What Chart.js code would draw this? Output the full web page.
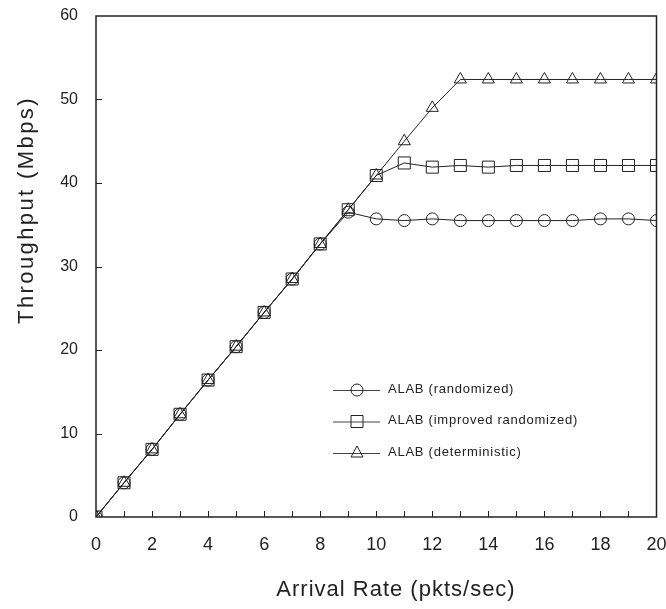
<!DOCTYPE html>
<html>
<head>
<meta charset="utf-8">
<script src="https://cdn.jsdelivr.net/npm/chart.js@4/dist/chart.umd.min.js"></script>
<style>
  html, body { margin: 0; padding: 0; background: #fff; }
  #wrap { width: 666px; height: 609px; }
</style>
</head>
<body>
<div id="wrap"><canvas id="chart" width="666" height="609"></canvas></div>
<script>
const arrivalRate = [0,1,2,3,4,5,6,7,8,9,10,11,12,13,14,15,16,17,18,19,20];
const randomized = [0,4.1,8.1,12.3,16.4,20.4,24.5,28.5,32.7,36.5,35.7,35.5,35.7,35.5,35.5,35.5,35.5,35.5,35.7,35.7,35.5];
const improved = [0,4.1,8.1,12.3,16.4,20.4,24.5,28.5,32.7,36.8,40.9,42.4,41.9,42.1,41.9,42.1,42.1,42.1,42.1,42.1,42.1];
const deterministic = [0,4.1,8.1,12.3,16.4,20.4,24.5,28.5,32.7,36.8,40.9,45.0,49.0,52.4,52.4,52.4,52.4,52.4,52.4,52.4,52.4];
const seriesNames = ["ALAB (randomized)", "ALAB (improved randomized)", "ALAB (deterministic)"];
const xTitle = "Arrival Rate (pkts/sec)";
const yTitle = "Throughput (Mbps)";

const FONT = "'Liberation Sans', Arial, sans-serif";
const ink = "#222";

function pts(vals) {
  return arrivalRate.map((x, i) => ({ x: x, y: vals[i] }));
}

function marker(ctx, style, x, y) {
  ctx.beginPath();
  if (style === "circle") {
    ctx.arc(x, y, 6, 0, Math.PI * 2);
  } else if (style === "rect") {
    ctx.rect(x - 6, y - 6, 12, 12);
  } else {
    ctx.moveTo(x, y - 7);
    ctx.lineTo(x + 6, y + 4);
    ctx.lineTo(x - 6, y + 4);
    ctx.closePath();
  }
  ctx.stroke();
}

// frame, inward tick marks, axis titles and the hand-drawn legend
const extras = {
  id: "extras",
  afterDraw(chart) {
    const { ctx, chartArea: a, scales } = chart;
    ctx.save();
    ctx.strokeStyle = ink;
    ctx.lineWidth = 1.5;
    ctx.strokeRect(a.left, a.top, a.right - a.left, a.bottom - a.top);

    ctx.lineWidth = 1;
    for (let v = 1; v < 20; v++) {
      const px = Math.round(scales.x.getPixelForValue(v)) + 0.5;
      ctx.beginPath();
      ctx.moveTo(px, a.bottom);
      ctx.lineTo(px, a.bottom - 6);
      ctx.stroke();
    }
    for (let v = 10; v < 60; v += 10) {
      const py = Math.round(scales.y.getPixelForValue(v)) + 0.5;
      ctx.beginPath();
      ctx.moveTo(a.left, py);
      ctx.lineTo(a.left + 6, py);
      ctx.stroke();
    }

    // axis titles (letter spaced like the original)
    ctx.fillStyle = ink;
    ctx.textAlign = "center";
    ctx.textBaseline = "middle";
    ctx.font = "22px " + FONT;
    ctx.letterSpacing = "1px";
    ctx.fillText(xTitle, 396, 590);
    ctx.save();
    ctx.translate(27, 210);
    ctx.rotate(-Math.PI / 2);
    ctx.letterSpacing = "2.4px";
    ctx.fillText(yTitle, 0, 0);
    ctx.restore();

    const styles = ["circle", "rect", "triangle"];
    ctx.font = "13px " + FONT;
    ctx.letterSpacing = "0.75px";
    ctx.textAlign = "left";
    for (let i = 0; i < 3; i++) {
      const y = 390 + i * 31.5;
      ctx.strokeStyle = "#444";
      ctx.beginPath();
      ctx.moveTo(333, y + 0.5);
      ctx.lineTo(380, y + 0.5);
      ctx.stroke();
      ctx.strokeStyle = ink;
      marker(ctx, styles[i], 357, y);
      ctx.fillText(seriesNames[i], 388, y - 1);
    }
    ctx.restore();
  }
};

const common = {
  showLine: true,
  borderColor: ink,
  borderWidth: 1,
  pointBorderColor: ink,
  pointBackgroundColor: "rgba(0,0,0,0)",
  pointBorderWidth: 1,
  tension: 0
};

new Chart(document.getElementById("chart"), {
  type: "scatter",
  data: {
    datasets: [
      Object.assign({ label: seriesNames[0], data: pts(randomized), pointStyle: "circle", pointRadius: 6 }, common),
      Object.assign({ label: seriesNames[1], data: pts(improved), pointStyle: "rect", pointRadius: 8.5 }, common),
      Object.assign({ label: seriesNames[2], data: pts(deterministic), pointStyle: "triangle", pointRadius: 7 }, common)
    ]
  },
  options: {
    responsive: false,
    animation: false,
    layout: { padding: { top: 16, right: 8, left: 0, bottom: 0 } },
    plugins: { legend: { display: false }, tooltip: { enabled: false } },
    scales: {
      x: {
        type: "linear",
        min: 0, max: 20,
        grid: { display: false },
        border: { display: false },
        ticks: {
          stepSize: 2,
          padding: 9,
          color: ink,
          font: { family: FONT, size: 18 },
          maxRotation: 0
        },
        afterFit(s) { s.height = 92; s.paddingLeft = 0; s.paddingRight = 0; }
      },
      y: {
        min: 0, max: 60,
        grid: { display: false },
        border: { display: false },
        ticks: {
          stepSize: 10,
          padding: 10,
          color: ink,
          font: { family: FONT, size: 16 }
        },
        afterFit(s) { s.width = 96; s.paddingTop = 0; s.paddingBottom = 0; }
      }
    }
  },
  plugins: [extras]
});
</script>
</body>
</html>
